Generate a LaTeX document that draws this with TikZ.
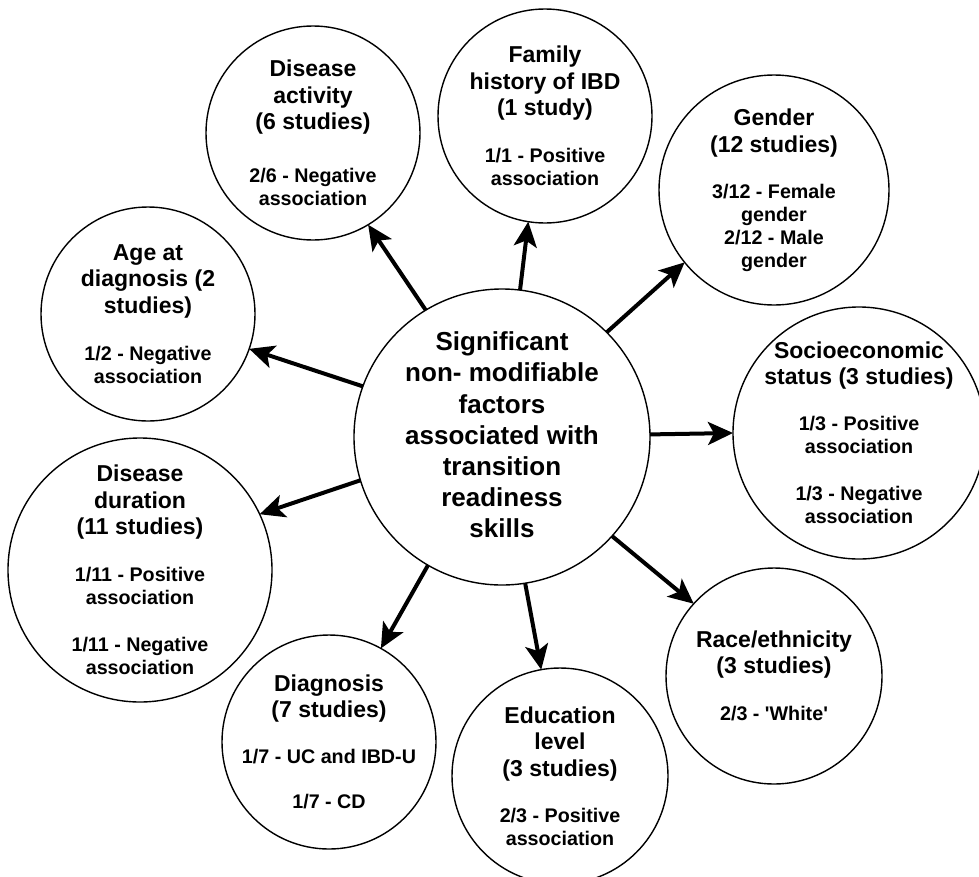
\documentclass[tikz,border=0pt]{standalone}
\usepackage{fontspec}
\setmainfont{Liberation Sans}
\usetikzlibrary{arrows.meta}
% type sizes for the factor titles and their findings
\newcommand{\ttlfont}{\fontsize{23}{26.5}\selectfont}
\newcommand{\bdyfont}{\fontsize{19.7}{23}\selectfont}
% centred lines with the font's own word spaces
\newcommand{\ctrlines}{\centering\spaceskip=0pt\relax\xspaceskip=0pt\relax}
\begin{document}
\begin{tikzpicture}[x=1pt,y=-1pt,
  factor/.style={circle,draw,line width=1.4pt,inner sep=0pt,outer sep=0pt,minimum size=#1},
  blurb/.style={inner sep=0pt,outer sep=0pt,text width=280pt,font=\bfseries},
  link/.style={line width=4pt,-{Stealth[length=25pt,width=23pt,inset=6pt]}}]

\fill[white] (0,0) rectangle (979,876);
\clip (0,0) rectangle (979,876);

% circles
\node[factor=296pt] (core) at (502,437) {};
\node[factor=214pt] (act)  at (313,133) {};
\node[factor=214pt] (fam)  at (545,116) {};
\node[factor=230pt] (gen)  at (774,190) {};
\node[factor=214pt] (age)  at (148,314) {};
\node[factor=252pt] (ses)  at (859,433) {};
\node[factor=264pt] (dur)  at (140,570) {};
\node[factor=214pt] (dia)  at (329,742) {};
\node[factor=216pt] (edu)  at (560,776) {};
\node[factor=216pt] (race) at (774,676) {};

% texts
\node[blurb,font=\bfseries\fontsize{26}{31.2}\selectfont] (core-t) at (502,435)
  {\ctrlines Significant\\non- modifiable\\factors\\associated with\\transition\\readiness\\skills\par};

\node[blurb] (act-t) at (act)
  {\ctrlines{\ttlfont Disease\\activity\\(6 studies)\par}\vspace{30pt}%
   {\bdyfont 2/6 - Negative\\association\par}};

\node[blurb] (fam-t) at (fam)
  {\ctrlines{\ttlfont Family\\history of IBD\\(1 study)\par}\vspace{24pt}%
   {\bdyfont 1/1 - Positive\\association\par}};

\node[blurb] (gen-t) at (gen)
  {\ctrlines{\ttlfont Gender\\(12 studies)\par}\vspace{23pt}%
   {\bdyfont 3/12 - Female\\gender\\2/12 - Male\\gender\par}};

\node[blurb] (age-t) at (age)
  {\ctrlines{\ttlfont Age at\\diagnosis (2\\studies)\par}\vspace{24pt}%
   {\bdyfont 1/2 - Negative\\association\par}};

\node[blurb] (ses-t) at (ses)
  {\ctrlines{\ttlfont Socioeconomic\\status (3 studies)\par}\vspace{23pt}%
   {\bdyfont 1/3 - Positive\\association\\[24pt]1/3 - Negative\\association\par}};

\node[blurb] (dur-t) at (dur)
  {\ctrlines{\ttlfont Disease\\duration\\(11 studies)\par}\vspace{24pt}%
   {\bdyfont 1/11 - Positive\\association\\[24pt]1/11 - Negative\\association\par}};

\node[blurb] (dia-t) at (dia)
  {\ctrlines{\ttlfont Diagnosis\\(7 studies)\par}\vspace{23pt}%
   {\bdyfont 1/7 - UC and IBD-U\\[22pt]1/7 - CD\par}};

\node[blurb] (edu-t) at (edu)
  {\ctrlines{\ttlfont Education\\level\\(3 studies)\par}\vspace{23pt}%
   {\bdyfont 2/3 - Positive\\association\par}};

\node[blurb] (race-t) at (race)
  {\ctrlines{\ttlfont Race/ethnicity\\(3 studies)\par}\vspace{24pt}%
   {\bdyfont 2/3 - \textquotesingle White\textquotesingle\par}};

% arrows from the central circle
\draw[link] (core.121.9) -- (act.301.8);
\draw[link] (core.83)    -- (fam.261.6);
\draw[link] (core.45.5)  -- (gen.219.5);
\draw[link] (core.160.7) -- (age.341.7);
\draw[link] (core.1.5)   -- (ses.180);
\draw[link] (core.197)   -- (dur.25.8);
\draw[link] (core.240.2) -- (dia.61.1);
\draw[link] (core.279.5) -- (edu.100.4);
\draw[link] (core.318.8) -- (race.138.3);
\end{tikzpicture}
\end{document}
